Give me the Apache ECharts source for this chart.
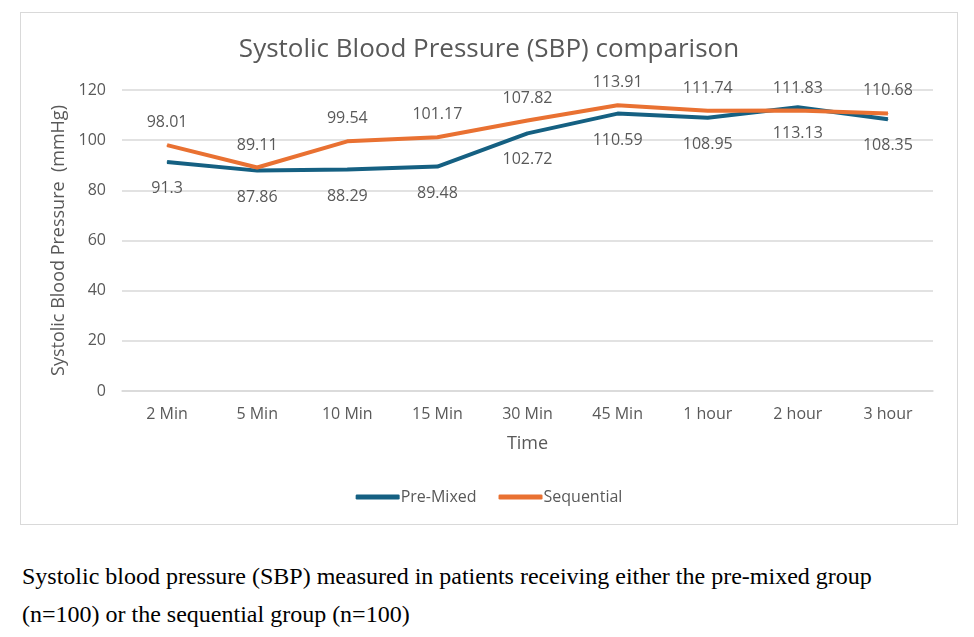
<!DOCTYPE html>
<html>
<head>
<meta charset="utf-8">
<script src="https://cdn.jsdelivr.net/npm/echarts@6/dist/echarts.min.js"></script>
<style>
    body { margin: 0; background: #fff; }
    #chart {
        position: absolute; left: 20px; top: 12px;
        width: 936px; height: 511px;
        border: 1px solid #d9d9d9;
    }
    .caption {
        position: absolute; left: 22px; top: 557px; margin: 0;
        font-family: "Liberation Serif", "Times New Roman", serif;
        font-size: 24px; line-height: 38px; color: #000;
    }
</style>
</head>
<body>
<div id="chart"></div>
<p class="caption">Systolic blood pressure (SBP) measured in patients receiving either the pre-mixed group<br>(n=100) or the sequential group (n=100)</p>
<script>
// SBP data
var times = ['2 Min', '5 Min', '10 Min', '15 Min', '30 Min', '45 Min', '1 hour', '2 hour', '3 hour'];
var preMixed = [91.3, 87.86, 88.29, 89.48, 102.72, 110.59, 108.95, 113.13, 108.35];
var sequential = [98.01, 89.11, 99.54, 101.17, 107.82, 113.91, 111.74, 111.83, 110.68];

var textColor = '#595959';
var font = '"Open Sans", "Noto Sans", sans-serif';

var chart = echarts.init(document.getElementById('chart'));

var option = {
    backgroundColor: '#fff',
    textStyle: { fontFamily: font },
    title: {
        text: 'Systolic Blood Pressure (SBP) comparison',
        left: 'center',
        top: 19,
        textStyle: { color: textColor, fontSize: 26, fontWeight: 'normal', fontFamily: font }
    },
    legend: {
        data: ['Pre-Mixed', 'Sequential'],
        bottom: 14,
        left: 'center',
        itemWidth: 44,
        itemHeight: 5,
        itemGap: 22,
        icon: 'roundRect',
        textStyle: { color: textColor, fontSize: 16, fontFamily: font, padding: [0, 0, 0, -4] }
    },
    grid: {
        left: 101,
        right: 24,
        top: 77,
        bottom: 133
    },
    xAxis: {
        type: 'category',
        data: times,
        name: 'Time',
        nameLocation: 'middle',
        nameGap: 44,
        nameTextStyle: { color: textColor, fontSize: 18 },
        axisLine: { lineStyle: { color: '#d9d9d9', width: 1.5 } },
        axisTick: { show: false },
        axisLabel: { color: textColor, fontSize: 16, margin: 15 }
    },
    yAxis: {
        type: 'value',
        min: 0,
        max: 120,
        interval: 20,
        name: 'Systolic Blood Pressure  (mmHg)',
        nameLocation: 'middle',
        nameGap: 50,
        nameTextStyle: { color: textColor, fontSize: 18 },
        axisLine: { show: false },
        axisTick: { show: false },
        axisLabel: { color: textColor, fontSize: 16, margin: 16 },
        splitLine: { lineStyle: { color: '#d9d9d9', width: 1.5 } }
    },
    series: [
        {
            name: 'Pre-Mixed',
            type: 'line',
            data: preMixed,
            symbol: 'circle',
            symbolSize: 1,
            lineStyle: { color: '#156082', width: 4 },
            itemStyle: { color: '#156082' },
            label: {
                show: true,
                position: 'bottom',
                distance: 18,
                color: textColor,
                fontSize: 16,
                fontFamily: font
            }
        },
        {
            name: 'Sequential',
            type: 'line',
            data: sequential,
            symbol: 'circle',
            symbolSize: 1,
            lineStyle: { color: '#E97132', width: 4 },
            itemStyle: { color: '#E97132' },
            label: {
                show: true,
                position: 'top',
                distance: 14,
                color: textColor,
                fontSize: 16,
                fontFamily: font
            }
        }
    ]
};

chart.setOption(option);
</script>
</body>
</html>
